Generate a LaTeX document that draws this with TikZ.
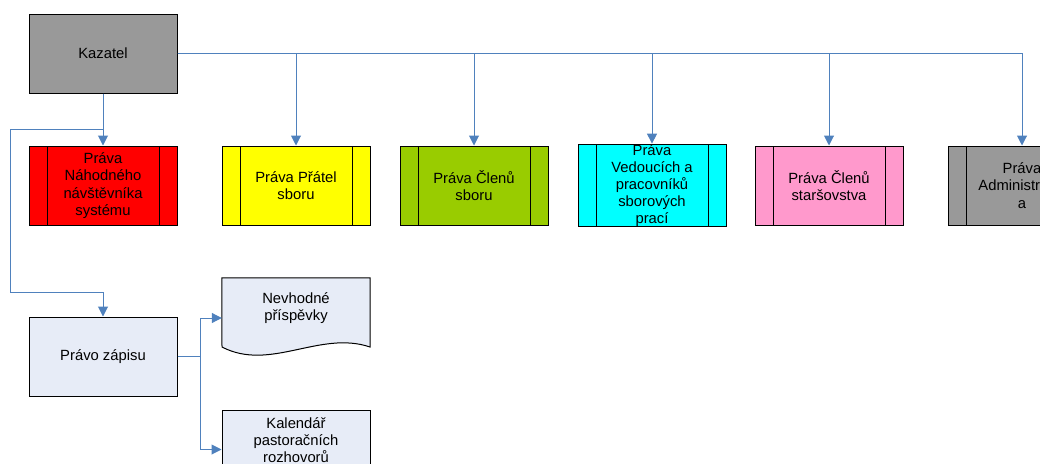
\documentclass[tikz,border=0pt]{standalone}
\usepackage{fontspec}
\setmainfont{Liberation Sans}
\usetikzlibrary{arrows.meta}
\definecolor{connc}{RGB}{79,129,189}
\definecolor{kgray}{RGB}{153,153,153}
\definecolor{kred}{RGB}{255,0,0}
\definecolor{kyellow}{RGB}{255,255,0}
\definecolor{kgreen}{RGB}{153,204,0}
\definecolor{kcyan}{RGB}{0,255,255}
\definecolor{kpink}{RGB}{255,153,204}
\definecolor{kpale}{RGB}{231,236,247}
\begin{document}
\begin{tikzpicture}[x=1pt,y=-1pt,
  box/.style={draw=black, line width=1pt, minimum width=148pt, minimum height=79pt,
    inner sep=0pt, font=\fontsize{14.8}{17.2}\selectfont, align=center},
  pbox/.style={box, path picture={
    \draw[line width=1pt] ([xshift=18pt]path picture bounding box.north west) -- ([xshift=18pt]path picture bounding box.south west);
    \draw[line width=1pt] ([xshift=-18pt]path picture bounding box.north east) -- ([xshift=-18pt]path picture bounding box.south east);}},
  txt/.style={font=\fontsize{14.8}{17.2}\selectfont, align=center, inner sep=0pt},
  conn/.style={draw=connc, line width=1pt},
  arr/.style={conn, -{Triangle[width=10pt,length=10pt]}}]
\useasboundingbox (0,0) rectangle (1040,463);
\clip (0,0) rectangle (1040,463);

\node[box, fill=kgray] (kaz) at (103,53.5) {Kazatel};

\node[pbox, fill=kred]    (b1) at (103,185.5) {Práva\\Náhodného\\návštěvníka\\systému};
\node[pbox, fill=kyellow] (b2) at (296,185.5) {Práva Přátel\\sboru};
\node[pbox, fill=kgreen]  (b3) at (474,185.5) {Práva Členů\\sboru};
\node[pbox, fill=kcyan]   (b4) at (652,185.5) {Práva\\Vedoucích a\\pracovníků\\sborových\\prací};
\node[pbox, fill=kpink]   (b5) at (829,185.5) {Práva Členů\\staršovstva};
\node[pbox, fill=kgray]   (b6) at (1022,185.5) {Práva\\Administrátor\\a};

\node[box, fill=kpale] (pz) at (103,356.5) {Právo zápisu};

\node[minimum width=148pt, minimum height=80pt, inner sep=0pt] (nev) at (296,318) {};
\draw[line width=1pt, fill=kpale] (nev.north west) -- (nev.north east) -- (370,347)
  .. controls (320,330) and (270,372) .. (222,347) -- cycle;
\node[txt] (nevt) at (296,308) {Nevhodné\\příspěvky};

\node[box, fill=kpale] (kal) at (296,449.5) {};
\node[txt] (kalt) at (296,440) {Kalendář\\pastoračních\\rozhovorů};

% connectors
\draw[arr] (kaz.south) -- (b1.north);
\draw[arr] (kaz.east) -| (b2.north);
\draw[arr] (kaz.east) -| (b3.north);
\draw[arr] (kaz.east) -| (b4.north);
\draw[arr] (kaz.east) -| (b5.north);
\draw[arr] (kaz.east) -| (b6.north);

\coordinate (j1) at (10,129);
\coordinate (j2) at (10,292);
\draw[arr] (kaz.south) |- (j1) -- (j2) -| (pz.north);

\coordinate (j3) at (200,356.5);
\draw[arr] (pz.east) -- (j3) |- (nev.west);
\draw[arr] (pz.east) -- (j3) |- (kal.west);
\end{tikzpicture}
\end{document}
